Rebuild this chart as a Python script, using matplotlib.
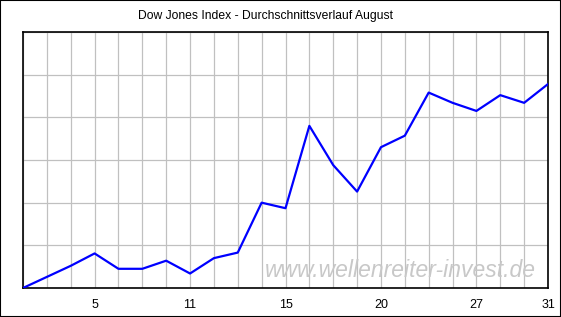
import matplotlib.pyplot as plt
from matplotlib.patches import Rectangle

plt.rcParams['font.family'] = ['Liberation Sans', 'DejaVu Sans']

# trading days in August (23 of them), only some are labelled
day_index = list(range(23))
label_pos = [3, 7, 11, 15, 19, 22]
label_txt = ['5', '11', '15', '20', '27', '31']

# average course (in grid rows, 0..6)
avg_course = [0.0, 0.26, 0.52, 0.81, 0.45, 0.45, 0.64, 0.34, 0.70, 0.83,
              2.00, 1.87, 3.80, 2.88, 2.26, 3.30, 3.57, 4.58, 4.34, 4.15,
              4.52, 4.34, 4.78]

fig = plt.figure(figsize=(5.61, 3.17), dpi=100)
ax = fig.add_axes([23 / 561, 1 - 288 / 317, 525 / 561, 256 / 317])

ax.plot(day_index, avg_course, color='#0000ff', linewidth=1.6, zorder=3)

ax.set_xlim(0, 22)
ax.set_ylim(0, 6)
ax.set_xticks(day_index, minor=True)
ax.set_xticks(label_pos)
ax.set_xticklabels(label_txt, fontsize=9)
ax.set_yticks(range(7))
ax.set_yticklabels([])
ax.tick_params(which='both', length=0, pad=8)
ax.grid(True, which='both', color='#c0c0c0', linewidth=0.9)
ax.set_axisbelow(True)
for s in ax.spines.values():
    s.set_linewidth(1.2)

ax.text(0.718, 0.07, 'www.wellenreiter-invest.de', transform=ax.transAxes,
        ha='center', va='center', fontsize=16.5, style='italic',
        color='#c8c8c8', zorder=2)

fig.text(265.5 / 561, 1 - 16 / 317, 'Dow Jones Index - Durchschnittsverlauf August',
         ha='center', va='center', fontsize=8.75)

fig.patches.append(Rectangle((0, 0), 1, 1, transform=fig.transFigure,
                             fill=False, edgecolor='black', linewidth=1.5))

fig.savefig('out.png', dpi=100)
